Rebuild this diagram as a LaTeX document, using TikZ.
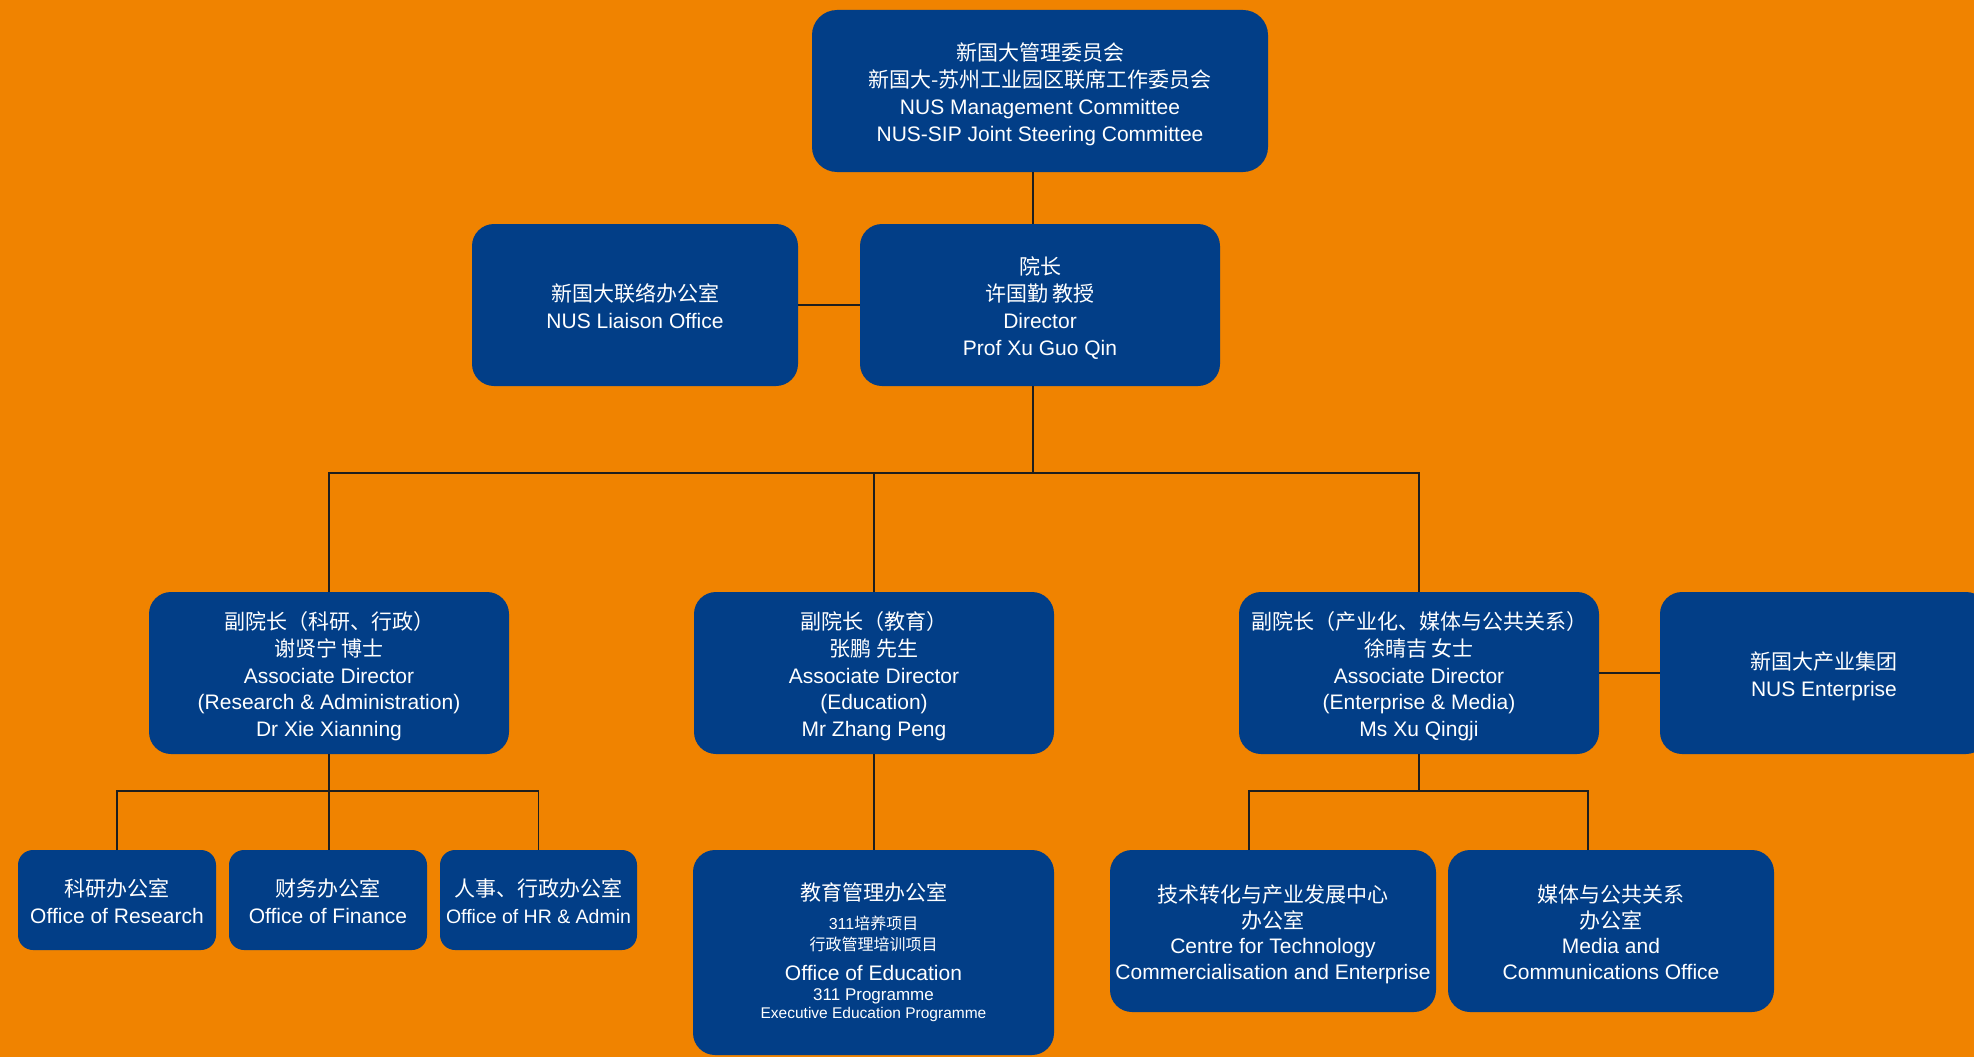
\documentclass[tikz,border=0pt]{standalone}
\usepackage{fontspec}
\setmainfont{Liberation Sans}
\newfontfamily\cjk{Noto Sans CJK SC}
\definecolor{bg}{HTML}{F08300}
\definecolor{boxblue}{HTML}{023E87}
\definecolor{linec}{HTML}{1E1E1E}
\newcommand{\ts}{\rule{0pt}{26pt}}
\newcommand{\bs}{\rule[-6pt]{0pt}{6pt}}
\begin{document}
\begin{tikzpicture}[x=1pt,y=-1pt,
  box/.style={fill=boxblue, text=white, align=center, inner sep=0pt, outer sep=0pt,
    rounded corners=22pt, minimum width=360pt, minimum height=162pt,
    font=\fontsize{21}{26.7}\selectfont},
  smallbox/.style={box, rounded corners=15pt, minimum width=198pt, minimum height=100pt},
  conn/.style={draw=linec, line width=2pt},
  thinconn/.style={draw=linec, line width=1.3pt}]
\useasboundingbox (0,0) rectangle (1974,1057);
\fill[bg] (0,0) rectangle (1974,1057);
\clip (0,0) rectangle (1974,1057);

% boxes
\node[box, rounded corners=25pt, minimum width=456pt] (top) at (1040,91)
  {\ts{\cjk 新国大管理委员会}\\{\cjk 新国大-苏州工业园区联席工作委员会}\\NUS Management Committee\\NUS-SIP Joint Steering Committee\bs};
\node[box, minimum width=326pt] (liaison) at (635,305)
  {\ts{\cjk 新国大联络办公室}\\NUS Liaison Office\bs};
\node[box] (dir) at (1040,305)
  {\ts{\cjk 院长}\\{\cjk 许国勤 教授}\\Director\\Prof Xu Guo Qin\bs};
\node[box] (ad1) at (329,673)
  {\ts{\cjk 副院长（科研、行政）}\\{\cjk 谢贤宁 博士}\\Associate Director\\(Research \& Administration)\\Dr Xie Xianning\bs};
\node[box] (ad2) at (874,673)
  {\ts{\cjk 副院长（教育）}\\{\cjk 张鹏 先生}\\Associate Director\\(Education)\\Mr Zhang Peng\bs};
\node[box] (ad3) at (1419,673)
  {\ts{\cjk 副院长（产业化、媒体与公共关系）}\\{\cjk 徐晴吉 女士}\\Associate Director\\(Enterprise \& Media)\\Ms Xu Qingji\bs};
\node[box, minimum width=328pt] (ent) at (1824,673)
  {\ts{\cjk 新国大产业集团}\\NUS Enterprise\bs};
\node[smallbox] (res) at (117,900)
  {\ts{\cjk 科研办公室}\\Office of Research\bs};
\node[smallbox] (fin) at (328,900)
  {\ts{\cjk 财务办公室}\\Office of Finance\bs};
\node[smallbox, minimum width=197pt] (hr) at (538.5,900)
  {\ts{\cjk 人事、行政办公室}\\{\fontsize{19.5}{27}\selectfont Office of HR \& Admin}\bs};
\node[box, minimum width=361pt, minimum height=205pt, font=\fontsize{21}{27}\selectfont] (edu) at (873.5,952.5)
  {{\cjk 教育管理办公室}\\[2pt]
   {\fontsize{16}{20}\selectfont 311{\cjk 培养项目}}\\[-6pt]
   {\cjk\fontsize{16}{20}\selectfont 行政管理培训项目}\\[3pt]
   Office of Education\\[-7pt]
   {\fontsize{17}{20}\selectfont 311 Programme}\\[-9pt]
   {\fontsize{15.5}{20}\selectfont Executive Education Programme}};
\node[box, minimum width=326pt, font=\fontsize{21}{25.7}\selectfont] (tech) at (1273,931)
  {\ts{\cjk 技术转化与产业发展中心}\\{\cjk 办公室}\\Centre for Technology\\Commercialisation and Enterprise\bs};
\node[box, minimum width=326pt, font=\fontsize{21}{25.7}\selectfont] (media) at (1611,931)
  {\ts{\cjk 媒体与公共关系}\\{\cjk 办公室}\\Media and\\Communications Office\bs};

% connectors
\coordinate (spine) at (1033,472.5);
\coordinate (lbus) at (328,791);
\coordinate (rbus) at (1419,791);
\coordinate (tdrop) at (1249,791);
\coordinate (mdrop) at (1588,791);
\draw[conn] (top.south -| spine) -- (dir.north -| spine);
\draw[conn] (dir.south -| spine) -- (spine);
\draw[conn] (liaison.east) -- (dir.west);
\draw[conn] (ad1.north) -- (ad1.north |- spine) -- (ad3.north |- spine) -- (ad3.north);
\draw[conn] (ad2.north) -- (ad2.north |- spine);
\draw[conn] (ad3.east) -- (ent.west);
\draw[conn] (ad2.south) -- (ad2.south |- edu.north);
\draw[conn] (ad1.south) -- (ad1.south |- fin.north);
\draw[thinconn] (res.north) -- (res.north |- lbus) -- (hr.north |- lbus) -- (hr.north);
\draw[conn] (ad3.south) -- (rbus);
\draw[thinconn] (tdrop |- tech.north) -- (tdrop) -- (mdrop) -- (mdrop |- media.north);
\end{tikzpicture}
\end{document}
